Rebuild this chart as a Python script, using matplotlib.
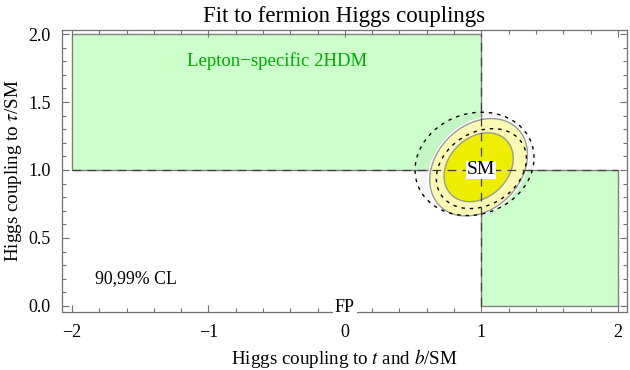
import numpy as np
import matplotlib
matplotlib.use("Agg")
import matplotlib.pyplot as plt
from matplotlib.ticker import MultipleLocator, FixedLocator, FixedFormatter

plt.rcParams['font.family'] = ['Liberation Serif', 'DejaVu Serif']
plt.rcParams['mathtext.fontset'] = 'stix'

# ---- data ----
title = "Fit to fermion Higgs couplings"
xlabel = r"Higgs coupling to $t$ and $b$/SM"
ylabel = r"Higgs coupling to $\tau$/SM"
x_ticks = [-2, -1, 0, 1, 2]
x_ticklabels = ["\u22122", "\u22121", "0", "1", "2"]
y_ticks = [0.0, 0.5, 1.0, 1.5, 2.0]
y_ticklabels = ["0.0", "0.5", "1.0", "1.5", "2.0"]

# allowed regions of lepton-specific 2HDM (x0, x1, y0, y1)
region_x0 = [-2.0, 1.0]
region_x1 = [1.0, 2.0]
region_y0 = [1.0, 0.0]
region_y1 = [2.0, 1.0]

# main fit: best fit, widths, correlation, chi2 levels for 90% and 99% CL
fit_center = [0.98, 1.02]
fit_sigma = [0.118, 0.118]
fit_rho = 0.26
cl_chi2 = [4.61, 9.21]

# alternative (dashed) contours: centre, half-widths, correlation
alt_cx = [1.00, 0.95]
alt_cy = [1.01, 1.045]
alt_hx = [0.33, 0.436]
alt_hy = [0.294, 0.38]
alt_rho = [0.25, 0.12]

sm_point = [1.0, 1.0]
fp_x = 0.0


def ellipse(cx, cy, hx, hy, rho, n=300):
    t = np.linspace(0, 2 * np.pi, n)
    x = cx + hx * np.cos(t)
    y = cy + hy * (rho * np.cos(t) + np.sqrt(1 - rho ** 2) * np.sin(t))
    return x, y


fig = plt.figure(figsize=(6.3, 3.7), dpi=100)
ax = fig.add_axes([0.0984, 0.157, 0.8966, 0.762])

# green regions
for x0, x1, y0, y1 in zip(region_x0, region_x1, region_y0, region_y1):
    ax.fill([x0, x1, x1, x0], [y0, y0, y1, y1], facecolor='#ccffcc',
            edgecolor='#808080', lw=1.0, zorder=1)

# filled contours (99% then 90%)
hx99 = np.sqrt(cl_chi2[1]) * fit_sigma[0]
hy99 = np.sqrt(cl_chi2[1]) * fit_sigma[1]
hx90 = np.sqrt(cl_chi2[0]) * fit_sigma[0]
hy90 = np.sqrt(cl_chi2[0]) * fit_sigma[1]

# faint fill of alternative outer contour
xa, ya = ellipse(alt_cx[1], alt_cy[1], alt_hx[1], alt_hy[1], alt_rho[1])
ax.fill(xa, ya, facecolor='black', alpha=0.035, lw=0, zorder=2)

x, y = ellipse(fit_center[0], fit_center[1], hx99, hy99, fit_rho)
ax.plot(x, y, color='white', lw=3.0, zorder=2.1)
ax.fill(x, y, facecolor='#fafab4', edgecolor='#9a9a9a', lw=1.0, zorder=2.2)
x, y = ellipse(fit_center[0], fit_center[1], hx90, hy90, fit_rho)
ax.fill(x, y, facecolor='#eeee00', edgecolor='#9a9a9a', lw=1.0, zorder=2.3)

# dashed alternative contours
for cx, cy, hx, hy, r in zip(alt_cx, alt_cy, alt_hx, alt_hy, alt_rho):
    xa, ya = ellipse(cx, cy, hx, hy, r)
    ax.plot(xa, ya, color='black', lw=1.0, ls=(0, (2.5, 3.5)), zorder=2.5)

# SM cross-hair lines
ax.hlines(sm_point[1], -2, 2, colors='#404040', lw=0.9, linestyles=(0, (7, 5)), zorder=2.6)
ax.vlines(sm_point[0], 0, 2, colors='#404040', lw=0.9, linestyles=(0, (7, 5)), zorder=2.6)

ax.set_xlim(-2.073, 2.066)
ax.set_ylim(-0.044, 2.03)

# labels
ax.text(sm_point[0], sm_point[1], "SM", ha='center', va='center', fontsize=14,
        bbox=dict(facecolor='white', edgecolor='none', pad=0.5), zorder=4)
ax.text(fp_x, ax.get_ylim()[0], "FP", ha='center', va='baseline', fontsize=13,
        bbox=dict(facecolor='white', edgecolor='none', pad=1.5), zorder=4, clip_on=False)
ax.text(-0.5, 1.8, "Lepton\u2212specific 2HDM", color='#00aa00', ha='center',
        va='center', fontsize=13.5)
ax.text(-1.83, 0.2, "90,99% CL", ha='left', va='center', fontsize=12.8)

ax.xaxis.set_major_locator(FixedLocator(x_ticks))
ax.xaxis.set_major_formatter(FixedFormatter(x_ticklabels))
ax.xaxis.set_minor_locator(MultipleLocator(0.2))
ax.yaxis.set_major_locator(FixedLocator(y_ticks))
ax.yaxis.set_major_formatter(FixedFormatter(y_ticklabels))
ax.yaxis.set_minor_locator(MultipleLocator(0.1))

for s in ax.spines.values():
    s.set_color('#707070')
    s.set_linewidth(0.9)
ax.tick_params(which='both', direction='in', top=True, right=True, color='#707070',
               labelsize=13, width=0.8)
ax.tick_params(axis='x', which='major', length=5, pad=9)
ax.tick_params(axis='y', which='major', length=5, pad=8)
ax.tick_params(which='minor', length=3)

ax.set_title(title, fontsize=16.5, pad=6)
ax.set_xlabel(xlabel, fontsize=13.7, labelpad=4)
ax.set_ylabel(ylabel, fontsize=13.7, labelpad=3)

fig.savefig("out.png", dpi=100)
